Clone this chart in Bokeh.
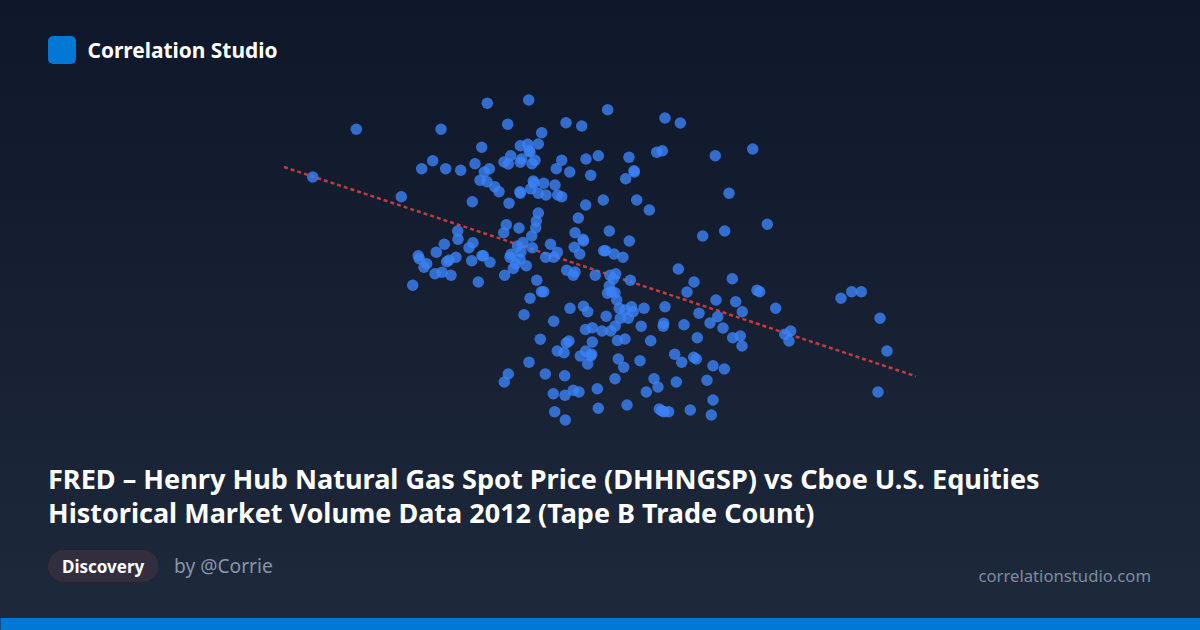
from bokeh.plotting import figure
from bokeh.models import Range1d, BoxAnnotation, Label
from bokeh.embed import file_html
from bokeh.resources import INLINE

TITLE_1 = "FRED – Henry Hub Natural Gas Spot Price (DHHNGSP) vs Cboe U.S. Equities"
TITLE_2 = "Historical Market Volume Data 2012 (Tape B Trade Count)"
BRAND = "Correlation Studio"
TAG = "Discovery"
AUTHOR = "by @Corrie"
SITE = "correlationstudio.com"

# Values, in picture units (the chart shows no axes).
points = """487.3,103.3 528.7,100 356.3,129.3 441,129.3 507.7,124.3 566,122.7 581.7,126 541.7,132.7 481.7,147.3 520.3,145.7
527.7,144.3 538.3,144 529.3,150.7 530,152 510.7,155.7 521.7,159 504,162 508.3,164 520.3,162.3 532,163.7 535,160.3 561.7,160.3
586,159 598.3,155.7 556.3,168.7 569.7,172 590.7,175.3 432.7,160.7 421.7,168.7 445.7,168.7 460.7,170.3 475,163.7 489.3,168.7
484.3,172 480,180.3 487,181.7 494.7,186.7 499,191.7 533.3,181 534,183.3 543.7,183.3 530.7,188.7 538.3,193.3 546,195 555,185
557.7,195 561.7,196.7 520,191.7 520.3,193.3 509,203.3 472.3,201.7 401.3,196.7 312.7,177 585.7,205 603.3,200 578.3,218 538.3,213
536.3,221 535.7,227.7 531.7,236 506.3,224.7 519,228 503.7,232.7 457.7,231 458,239.3 473,242.7 469,247.7 444.3,244.3 436.3,252.3
418.3,255.7 419.3,258.7 426.7,263.7 424,267.3 446.7,261.7 449,260.3 456,257.3 471.7,260.7 482,255.7 483.3,255.7 490,262.3
575,232.7 583,239.3 583.5,241 550.5,244.3 574.3,247.3 579.7,254 557.3,252.3 553.7,257.3 545.7,257.3 532.3,247.7 523,242.5
517.5,246 521,251.7 511,254.3 510,257.3 520,259 526.3,265.7 513.3,268.5 515.7,264 504.7,275.3 536.8,280.3 541.5,291.8 543.8,291.8
530,298.3 607.7,109.7 665,118 680.3,123 629,157.3 656.7,152.3 662.3,150.7 715.3,155.7 752.7,149 634,170.7 634.3,172 625.7,178.7
729,193.3 636.7,200 649.3,210 609.3,231 629.3,241 702.7,236 724.7,231 767.3,224.3 603.7,250.7 605.7,250.7 614,254 623,257.3
678.3,269 435,273.7 442,272.3 451,275.3 412.7,285.3 478.3,282 566.7,270.3 575,272 573.3,275.3 595.3,275.3 610,275.3 615.7,273.7
613.3,279 630.3,280.3 609.3,286 607.5,293.3 611.2,291.7 615,292.7 616.7,300 619.3,308.3 625,310 631.5,306.7 633.2,311.7 644,308.3
665,306.7 583.5,306.2 587.7,311.7 606.2,316.3 628.3,318.2 620.3,318.2 615.2,326 610.7,331 602,331 592.3,327.8 585.5,329.5
641.2,326.3 663.7,323.2 663.2,326.2 570,308.3 524,314.7 553.7,321.3 617.5,340.5 625,339 650.7,340.8 592.3,342 540.3,339.3 569,341
566.3,343 557.3,351 564,352.7 585.7,351 580.3,356 591.7,354.3 590.7,356 587.7,364 618.3,359 623.7,367.3 640,360.7 529,362.3
508.3,374 504.3,382 545.3,374 564.7,375.7 615,378.7 654,378.7 658,387 597.3,388.7 573.3,390.3 579,392 553.3,393.7 565,395.3
646.3,392 598.3,408.3 627,405 554.7,411.7 565.3,420 659.3,409 661.7,410.7 664,411.7 668.7,411.7 690.3,410 711.3,415 713,400
878,392 694,282 687,292 732.3,278.7 757,290.3 759.7,291.7 716,300 735.7,301.7 742.3,311.7 775.7,308.3 841,298.3 851.7,291.7
861.3,291.7 880,318.3 699,313.3 717.7,316.7 710,323 723,328 684,324.7 697.3,337.7 732.7,337.7 740.3,336 742,346 790.7,331
784.7,334.3 789,341 887,351 674.7,354.3 681.7,362.3 693.7,357.3 696.3,359 713,365.7 724.3,369 676.3,382 707,380.3""".split()
gas_price = [float(s.split(",")[0]) for s in points]
trade_count = [float(s.split(",")[1]) for s in points]
trend_x = [284, 916]
trend_y = [167, 376.3]

FONT = "Noto Sans"
H = 630
SHIFT = 0.5  # the SVG backend draws half a pixel right and down

p = figure(width=1200, height=H, output_backend="svg", toolbar_location=None,
           x_range=Range1d(SHIFT, 1200 + SHIFT), y_range=Range1d(H + SHIFT, SHIFT),
           min_border=0, outline_line_color=None,
           background_fill_alpha=0, border_fill_alpha=0)
p.axis.visible = False
p.grid.visible = False
p.styles = {"position": "fixed", "left": "0", "top": "0",
            "background": "linear-gradient(180deg, #0f172a 0%, #1e293b 100%)"}

p.line(trend_x, trend_y, line_color="#ef4444", line_alpha=0.8, line_width=2.5, line_dash="4 3")
p.scatter(gas_price, trade_count, size=11.5, fill_color="#3b82f6", fill_alpha=0.8, line_color=None)

def box(left, right, top, bottom, radius, color):
    # screen units count upward from the bottom edge
    p.add_layout(BoxAnnotation(left=left - SHIFT, right=right - SHIFT,
                               top=H - top + SHIFT, bottom=H - bottom + SHIFT,
                               left_units="screen", right_units="screen",
                               top_units="screen", bottom_units="screen",
                               border_radius=radius, fill_color=color, fill_alpha=1,
                               line_color=None, level="underlay"))

box(48, 76, 36, 64, 5, "#0078d4")
box(48, 158.5, 550, 582, 16, "#332e3e")
box(0, 1201, 618, 631, 0, "#0078d4")

def label(x, y, text, size, color, style="normal", align="left"):
    p.add_layout(Label(x=x, y=y, text=text, text_font=FONT, text_font_size=f"{size}px",
                       text_color=color, text_font_style=style, text_align=align,
                       text_baseline="alphabetic"))

label(87.5, 49.5, BRAND, 20.9, "#ffffff", "bold")
label(48, 478, TITLE_1, 27.1, "#ffffff", "bold")
label(48, 512, TITLE_2, 27, "#ffffff", "bold")
label(62, 566, TAG, 17, "#ffffff", "bold")
label(174, 565.5, AUTHOR, 19.2, "#8795ab")
label(1151, 575, SITE, 16.7, "#7d8ca3", align="right")

open("out.html", "w").write(file_html(p, INLINE))
